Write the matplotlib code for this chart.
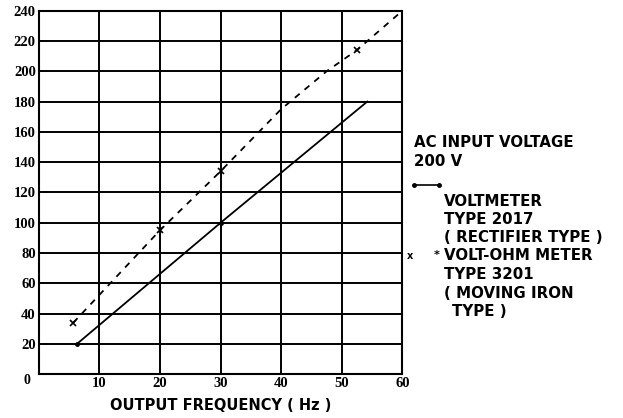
import numpy as np
import matplotlib
matplotlib.use("Agg")
import matplotlib.pyplot as plt

# output frequency (Hz) vs meter reading (V)
FREQ_RECT = [6.3, 30, 54.2]
VOLT_RECT = [20, 100, 180]

FREQ_MI = [5.7, 20, 30, 40, 47.5, 52.5, 60]
VOLT_MI = [34, 95, 134, 175, 200, 214, 240]
FREQ_MI_PTS = [5.7, 20, 30, 52.5]
VOLT_MI_PTS = [34, 95, 134, 214]

XTICKS = [10, 20, 30, 40, 50, 60]
YTICKS = list(range(20, 241, 20))

LEGEND_LINES = ["AC INPUT VOLTAGE", "200 V"]
RECT_LABEL = ["VOLTMETER", "TYPE 2017", "( RECTIFIER TYPE )"]
MI_LABEL = ["VOLT-OHM METER", "TYPE 3201", "( MOVING IRON"]

fig = plt.figure(figsize=(6.23, 4.18), dpi=100)
ax = fig.add_axes([0.062, 0.1045, 0.584, 0.8700])

ax.set_xlim(0, 60)
ax.set_ylim(0, 240)
ax.set_xticks(XTICKS)
ax.set_yticks(YTICKS)
ax.grid(True, color="black", lw=1.4)
ax.tick_params(length=0, pad=2)
for lab in ax.get_xticklabels() + ax.get_yticklabels():
    lab.set_fontfamily("Liberation Serif")
    lab.set_fontweight("bold")
    lab.set_fontsize(10.5)
for s in ax.spines.values():
    s.set_linewidth(1.5)

ax.plot(FREQ_RECT, VOLT_RECT, color="black", lw=1.3, marker="o", ms=2.5,
        markevery=[0, 1], clip_on=False)
ax.plot(FREQ_MI, VOLT_MI, color="black", lw=1.3, ls=(0, (3.5, 3.5)), clip_on=False)
ax.plot(FREQ_MI_PTS, VOLT_MI_PTS, ls="none", marker="x", ms=4, mew=1.2, color="black")

fig.text(27 / 623, 1 - 380 / 418, "0", fontfamily="Liberation Serif", fontweight="bold",
         fontsize=10, ha="center", va="center")
ax.set_xlabel("OUTPUT FREQUENCY ( Hz )", fontfamily="DejaVu Sans", fontweight="bold",
              fontsize=10.5, labelpad=6)

# right-hand key
kw = dict(fontfamily="DejaVu Sans", fontweight="bold", fontsize=10.8, va="center")
for i, t in enumerate(LEGEND_LINES):
    fig.text(414 / 623, 1 - (142.7 + 19 * i) / 418, t, **kw)
fig.lines.append(plt.Line2D([414 / 623, 439 / 623], [1 - 185 / 418] * 2, color="black",
                            lw=1.2, marker="o", ms=2.5, transform=fig.transFigure))
for i, t in enumerate(RECT_LABEL):
    fig.text(444 / 623, 1 - (201 + 18.3 * i) / 418, t, **kw)
fig.text(410 / 623, 1 - 256 / 418, "x", fontfamily="DejaVu Sans", fontweight="bold",
         fontsize=7, ha="center", va="center")
fig.text(437 / 623, 1 - 255 / 418, "*", fontfamily="DejaVu Sans", fontweight="bold",
         fontsize=8, ha="center", va="center")
for i, t in enumerate(MI_LABEL):
    fig.text(444 / 623, 1 - (256 + 18.5 * i) / 418, t, **kw)
fig.text(452 / 623, 1 - 311.7 / 418, "TYPE )", **kw)

fig.savefig("out.png", dpi=100)
